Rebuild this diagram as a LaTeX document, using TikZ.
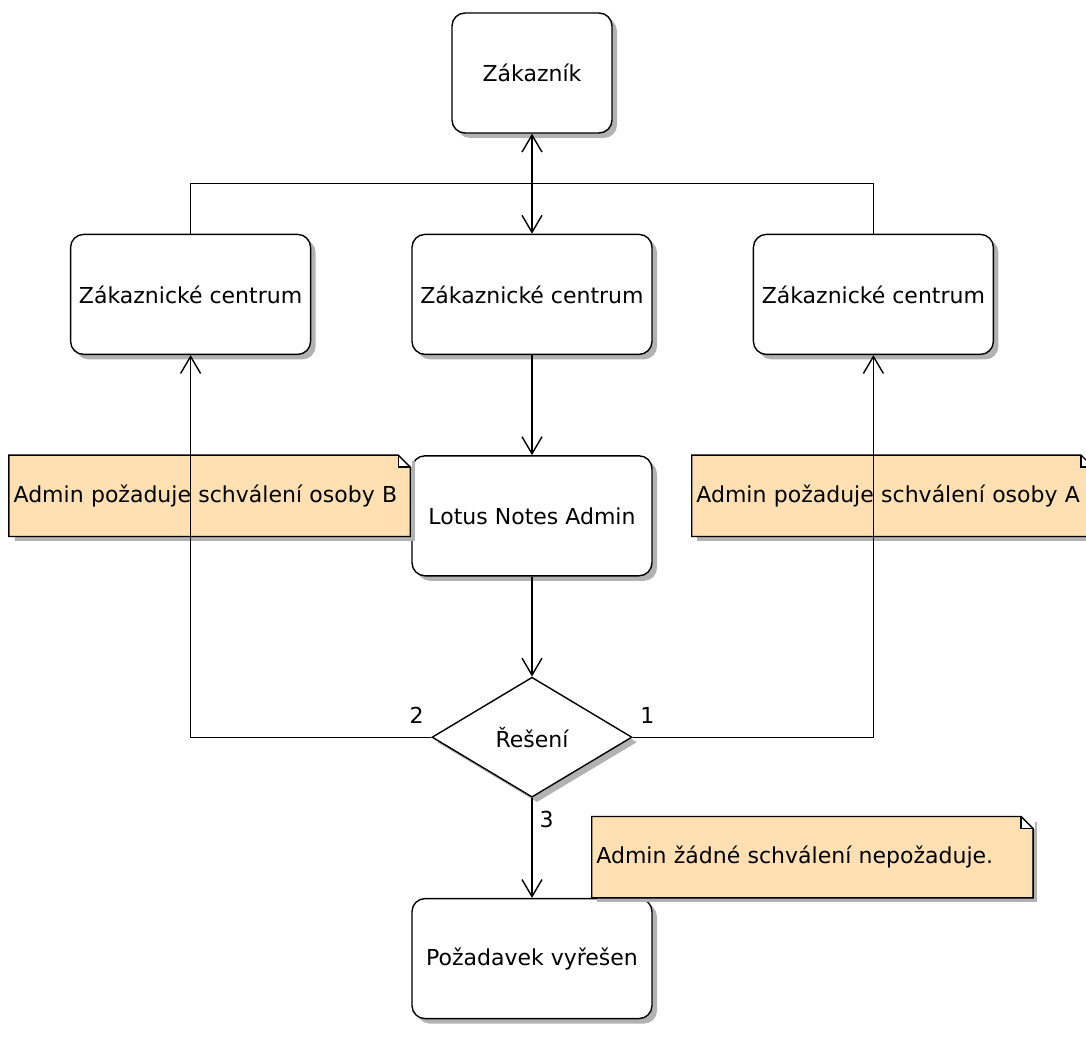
\documentclass[tikz,border=0pt]{standalone}
\usepackage{fontspec}
\setmainfont{DejaVu Sans}
\usetikzlibrary{positioning, shapes.geometric, arrows.meta, shadows}
\definecolor{notefill}{RGB}{255,224,178}

\begin{document}
\begin{tikzpicture}[
        font=\fontsize{11pt}{13pt}\selectfont,
        line width=0.7pt,
        shade/.style={drop shadow={shadow xshift=2.5pt, shadow yshift=-2.5pt, fill=black!30, opacity=1}},
        box/.style={draw, rectangle, rounded corners=6.5pt, align=center, minimum width=120pt, minimum height=60pt, fill=white, shade},
        choice/.style={draw, diamond, minimum width=100pt, minimum height=60pt, inner sep=0pt, fill=white, shade},
        note/.style={rectangle, fill=notefill, minimum height=40pt, inner sep=2pt, align=left, shade},
        num/.style={inner sep=3.5pt},
        arrow/.style={-{Straight Barb[length=8.5pt, width=10pt]}},
        dblarrow/.style={{Straight Barb[length=8.5pt, width=10pt]}-{Straight Barb[length=8.5pt, width=10pt]}}
    ]
    \useasboundingbox (-266pt,36.5pt) rectangle (277pt,-490pt);

    \node[box, minimum width=80pt] (zak) {Zákazník};
    \node[box, below=50pt of zak] (centrum) {Zákaznické centrum};
    \node[box, left=50pt of centrum] (centrumb) {Zákaznické centrum};
    \node[box, right=50pt of centrum] (centruma) {Zákaznické centrum};
    \node[box, below=50pt of centrum] (lotus) {Lotus Notes Admin};
    \node[choice, below=50pt of lotus] (reseni) {Řešení};
    \node[box, below=50pt of reseni] (vyreseno) {Požadavek vyřešen};

    % poznamky
    \node[note, text width=196pt, below=50pt of centrumb, xshift=9.5pt] (noteb) {Admin požaduje schválení osoby B};
    \node[note, text width=196pt, below=50pt of centruma, xshift=9.5pt] (notea) {Admin požaduje schválení osoby A};
    \node[note, text width=216pt, above right=0pt and -30.5pt of vyreseno] (notec) {Admin žádné schválení nepožaduje.};
    \foreach \n in {noteb, notea, notec} {
        \fill[white] ([xshift=-6pt]\n.north east) rectangle ([xshift=1pt, yshift=-6pt]\n.north east);
        \draw (\n.north west) -- ([xshift=-6pt]\n.north east) -- ([yshift=-6pt]\n.north east) -- (\n.south east) -- (\n.south west) -- cycle;
        \draw ([xshift=-6pt]\n.north east) |- ([yshift=-6pt]\n.north east);
    }

    \draw[dblarrow] (zak) -- (centrum);
    \draw (centrumb.north) -- ++(0,25pt) -| (centruma.north);
    \draw[arrow] (centrum) -- (lotus);
    \draw[arrow] (lotus) -- (reseni);
    \draw[arrow] (reseni.west) -| node[pos=0, num, above left, yshift=3pt] {2} (centrumb.south);
    \draw[arrow] (reseni.east) -| node[pos=0, num, above right, yshift=3pt] {1} (centruma.south);
    \draw[arrow] (reseni.south) -- node[pos=0, num, below right, yshift=-3pt] {3} (vyreseno.north);
\end{tikzpicture}
\end{document}
